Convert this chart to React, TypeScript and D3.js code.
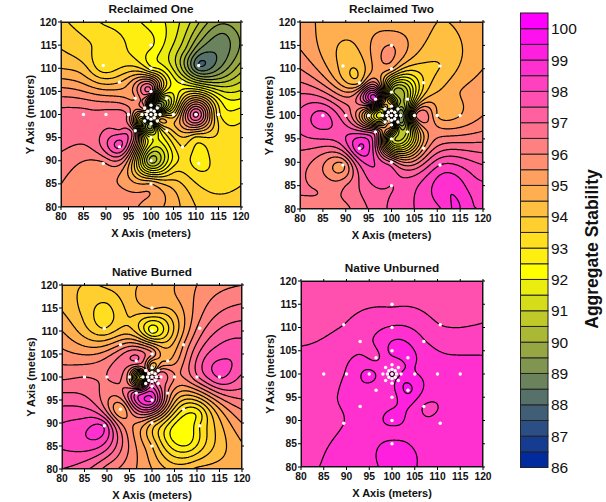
import React, { useMemo } from "react";
import * as d3 from "d3";

// Sample stations, metres. Order per ring: E, NE, N, NW, W, SW, S, SE
const stationX = [100,
  101,100.7,100,99.3,99,99.3,100,100.7,
  102,101.4,100,98.6,98,98.6,100,101.4,
  105,103.5,100,96.5,95,96.5,100,103.5,
  110,107,100,93,90,93,100,107,
  115,110.6,100,89.4,85,89.4,100,110.6];
const stationY = [100,
  100,100.7,101,100.7,100,99.3,99,99.3,
  100,101.4,102,101.4,100,98.6,98,98.6,
  100,103.5,105,103.5,100,96.5,95,96.5,
  100,107,110,107,100,93,90,93,
  100,110.6,115,110.6,100,89.4,85,89.4];

const reclaimedOne = [94,
  92,91,93,95,95,96,93,93,
  93,89,92,96,94,92,90,94,
  93.5,91,96.8,95.5,96.3,96,92,93.5,
  97.7,91.8,92.7,94.5,96.7,98.1,90.3,93.5,
  93.2,88,92.6,93.1,96.7,95.9,95,92.8];
const reclaimedTwo = [96,
  92,91,94,96,95,95,94,92,
  89,90,94,93,92,94,95,90,
  95.5,91,91,99,93.5,97,91.5,91.2,
  95,93.5,95,94.5,97,99,97,95.5,
  95,94,95.5,94.3,98.2,95.4,97.5,98];
const nativeBurned = [97,
  97,96,95.5,96,96,97,98,97,
  97,96,94,96,92,96,98,97,
  96,95,96,97,95.5,98,99,96,
  96.9,95.5,92.3,95.5,96.5,95,94.5,93,
  98.05,96.2,94.6,93.5,96.5,98.4,94.5,93];
const nativeUnburned = [99.2,
  98.8,98.8,98.75,98.8,98.8,98.8,98.85,98.9,
  99.05,98.75,98.7,98.8,98.8,98.8,98.85,99.2,
  99.05,99.15,99.15,98.4,99.15,98.7,98.75,99.6,
  98.75,98.55,98.55,98.45,98.55,98.6,99.2,98.47,
  98.75,98,97.95,98,98.25,98.5,99.15,98.7];

// Extra surface readings taken away from the stations [x, y, value]
const reclaimedOneEdge: number[][] = [
  [80,120,93.6],[90,120,92.9],[100,120,92.3],[110,120,90.7],[120,120,90],[120,110,90.3],[120,100,92.8],[120,90,93.4],[120,80,93.7],
  [110,80,94],[100,80,95.2],[90,80,95.8],[80,80,95.9],[80,90,96.35],[80,100,96.7],[80,110,94.5],
  [113,113,88.4],[116,117,88.9],[108,114,90.3],[116,108,90],[90,115,93.4],[85,110,94.2],[93,97,96.9],[87,97,96.7],[87,103,96],[110,95,93.4],[115,92,93.4],[105,88,93.3],
];
const reclaimedTwoEdge: number[][] = [
  [80,120,95.2],[90,120,94.8],[100,120,94.7],[110,120,94.5],[120,120,94.8],[120,110,95],[120,100,95.5],[120,90,97.4],[120,85,98.1],[120,80,98.5],
  [111.5,80,98.6],[112,86,98.8],[113,83,99],[114,80,99.1],[117,80,98.6],[118,85,98.2],[105,80,98],[100,80,97.6],[90,80,96.4],[80,80,96.4],[80,90,96.7],[80,100,97.6],[80,110,96],
  [90,115,94.4],[115,105,95],[85,85,96.4],[85,90,96.1],[90,85,96.5],
];
const nativeBurnedEdge: number[][] = [
  [80,120,94.2],[90,120,94.1],[100,120,94.6],[110,120,95.5],[120,120,96],[120,110,97.3],[120,105,97.8],[120,100,97.4],[120,90,95.5],[120,80,94.8],
  [110,80,94.6],[100,80,95],[90,80,96.3],[80,80,97.5],[80,90,98],[80,100,96.4],[80,110,95],
  [115,105,97.8],[112,103,97.7],[105,88,92.2],[108,86,92.3],[110,92,92.6],[85,90,98.2],[90,113,93.3],[90,116,93.5],[85,113,93.9],[95,113,94],[95,117,94.3],
];
const nativeUnburnedEdge: number[][] = [
  [80,120,97.7],[90,120,97.75],[100,120,97.8],[110,120,97.8],[120,120,97.85],[120,111,98],[115,110,98],[120,104,98.5],[120,90,98.75],[120,80,98.8],
  [110,80,98.9],[105.5,80,99],[100,80,99.25],[97,80,99],[90,80,98.7],[84,80,98.5],[80,80,98.45],[80,90,98.4],[80,100,98.2],[80,106,98],
  [88,95,98.5],[92,104,98.5],[100,87.3,98.75],
];

const panelTitles = ["Reclaimed One", "Reclaimed Two", "Native Burned", "Native Unburned"];
const panelValues = [reclaimedOne, reclaimedTwo, nativeBurned, nativeUnburned];
const panelEdges = [reclaimedOneEdge, reclaimedTwoEdge, nativeBurnedEdge, nativeUnburnedEdge];
const panelBoxes = [
  { l: 61, r: 241, t: 22, b: 207 },
  { l: 300, r: 483, t: 22, b: 209 },
  { l: 62, r: 242, t: 285, b: 469 },
  { l: 301, r: 483, t: 281, b: 467 },
];
const axisTicks = [80, 85, 90, 95, 100, 105, 110, 115, 120];
const barLabels = [86,87,88,89,90,91,92,93,94,95,96,97,98,99,100];
const levels = d3.range(86, 100.51, 0.5);
const FONT = "'Liberation Sans', Arial, sans-serif";

const lowColour = d3.scaleLinear<string>().domain([86, 92]).range(["#002a9e", "#ffff00"]);
const highColour = d3.scaleLinear<string>().domain([92, 100]).range(["#ffff00", "#ff00ff"]);
const bandColour = (v: number) => (v < 92 ? lowColour(v) : highColour(v));

function solve(A: number[][], b: number[]) {
  const n = b.length;
  for (let i = 0; i < n; i++) {
    let p = i;
    for (let k = i + 1; k < n; k++) if (Math.abs(A[k][i]) > Math.abs(A[p][i])) p = k;
    [A[i], A[p]] = [A[p], A[i]];
    [b[i], b[p]] = [b[p], b[i]];
    for (let k = i + 1; k < n; k++) {
      const f = A[k][i] / A[i][i];
      if (f === 0) continue;
      for (let j = i; j < n; j++) A[k][j] -= f * A[i][j];
      b[k] -= f * b[i];
    }
  }
  const x = new Array(n).fill(0);
  for (let i = n - 1; i >= 0; i--) {
    let s = b[i];
    for (let j = i + 1; j < n; j++) s -= A[i][j] * x[j];
    x[i] = s / A[i][i];
  }
  return x;
}

const kernel = (d2: number) => (d2 < 1e-12 ? 0 : d2 * Math.log(d2) * 0.5);
const GRID = 201;

function surface(values: number[], edge: number[][]) {
  const pts = [
    ...stationX.map((x, i) => [x, stationY[i], values[i]]),
    ...edge,
  ];
  const n = pts.length;
  const A: number[][] = [];
  const b: number[] = [];
  for (let i = 0; i < n + 3; i++) {
    const row = new Array(n + 3).fill(0);
    if (i < n) {
      for (let j = 0; j < n; j++) {
        const dx = pts[i][0] - pts[j][0], dy = pts[i][1] - pts[j][1];
        row[j] = kernel(dx * dx + dy * dy);
      }
      row[n] = 1; row[n + 1] = (pts[i][0] - 100) / 20; row[n + 2] = (pts[i][1] - 100) / 20;
      b.push(pts[i][2]);
    } else {
      for (let j = 0; j < n; j++) {
        row[j] = i === n ? 1 : i === n + 1 ? (pts[j][0] - 100) / 20 : (pts[j][1] - 100) / 20;
      }
      b.push(0);
    }
    A.push(row);
  }
  const w = solve(A, b);
  const grid = new Float64Array(GRID * GRID);
  for (let r = 0; r < GRID; r++) {
    const y = 120 - (40 * r) / (GRID - 1);
    for (let c = 0; c < GRID; c++) {
      const x = 80 + (40 * c) / (GRID - 1);
      let v = w[n] + (w[n + 1] * (x - 100)) / 20 + (w[n + 2] * (y - 100)) / 20;
      for (let j = 0; j < n; j++) {
        const dx = x - pts[j][0], dy = y - pts[j][1];
        v += w[j] * kernel(dx * dx + dy * dy);
      }
      grid[r * GRID + c] = v;
    }
  }
  return grid;
}

function Panel({ idx }: { idx: number }) {
  const box = panelBoxes[idx];
  const x = d3.scaleLinear().domain([80, 120]).range([box.l, box.r]);
  const y = d3.scaleLinear().domain([80, 120]).range([box.b, box.t]);
  const contours = useMemo(() => {
    const g = surface(panelValues[idx], panelEdges[idx]);
    const gen = d3.contours().size([GRID, GRID]).smooth(true).thresholds(levels);
    return gen(Array.from(g));
  }, [idx]);
  // grid node centres sit at +0.5 in d3.contours' coordinates
  const sx = (box.r - box.l) / (GRID - 1);
  const sy = (box.b - box.t) / (GRID - 1);
  const geo = d3.geoPath(
    d3.geoTransform({
      point(px: number, py: number) {
        (this as any).stream.point(box.l + (px - 0.5) * sx, box.t + (py - 0.5) * sy);
      },
    })
  );
  const clip = `clip${idx}`;
  const tickStyle = { fontFamily: FONT, fontSize: 10.3, fontWeight: 700, fill: "#111" } as const;
  const w = box.r - box.l, h = box.b - box.t;
  return (
    <g>
      <clipPath id={clip}><rect x={box.l} y={box.t} width={w} height={h} /></clipPath>
      <g clipPath={`url(#${clip})`}>
        <rect x={box.l} y={box.t} width={w} height={h} fill={bandColour(idx === 3 ? 98 : 92)} />
        {contours.map((c, i) => (
          <path key={i} d={geo(c as any) || ""} fill={bandColour(c.value)} stroke="none" />
        ))}
        {contours.map((c, i) => (
          <path key={i} d={geo(c as any) || ""} fill="none" stroke="#000" strokeWidth={1.2} />
        ))}
        {stationX.map((sxv, i) => (
          <circle key={i} cx={x(sxv)} cy={y(stationY[i])} r={1.7} fill="#fff" />
        ))}
      </g>
      <rect x={box.l} y={box.t} width={w} height={h} fill="none" stroke="#222" strokeWidth={1} />
      {axisTicks.map((t) => (
        <g key={t}>
          <line x1={x(t)} x2={x(t)} y1={box.b} y2={box.b + 3} stroke="#000" />
          <line x1={x(t)} x2={x(t)} y1={box.t} y2={box.t - 2} stroke="#000" />
          <line y1={y(t)} y2={y(t)} x1={box.l} x2={box.l - 3} stroke="#000" />
          <line y1={y(t)} y2={y(t)} x1={box.r} x2={box.r + 2} stroke="#000" />
          <text x={x(t)} y={box.b + 12.5} textAnchor="middle" {...tickStyle}>{t}</text>
          <text x={box.l - 4} y={y(t) + 3.5} textAnchor="end" {...tickStyle}>{t}</text>
        </g>
      ))}
      <text x={(box.l + box.r) / 2} y={box.t - 9} textAnchor="middle" fontFamily={FONT} fontSize={11.8} fontWeight={700} fill="#111">{panelTitles[idx]}</text>
      <text x={(box.l + box.r) / 2} y={box.b + 30} textAnchor="middle" fontFamily={FONT} fontSize={11} fontWeight={700} fill="#111">X Axis (meters)</text>
      <text transform={`translate(${box.l - 27},${(box.t + box.b) / 2}) rotate(-90)`} textAnchor="middle" fontFamily={FONT} fontSize={11} fontWeight={700} fill="#111">Y Axis (meters)</text>
    </g>
  );
}

function ColourBar() {
  const y = d3.scaleLinear().domain([86, 100.5]).range([467.5, 13]);
  return (
    <g>
      {levels.slice(0, -1).map((v) => (
        <rect key={v} x={520.5} y={y(v + 0.5)} width={27.5} height={y(v) - y(v + 0.5)} fill={bandColour(v)} stroke="#222" strokeWidth={1} />
      ))}
      {barLabels.map((t) => (
        <text key={t} x={551} y={y(t) + 5.5} fontFamily={FONT} fontSize={15.5} fill="#111">{t}</text>
      ))}
      <text transform="translate(598,249) rotate(-90)" textAnchor="middle" fontFamily={FONT} fontSize={17.5} fontWeight={700} fill="#111">Aggregate Stability</text>
    </g>
  );
}

export default function App() {
  return (
    <svg width={606} height={502} style={{ position: "fixed", left: 0, top: 0, background: "#fff" }}>
      {panelTitles.map((_, i) => <Panel key={i} idx={i} />)}
      <ColourBar />
    </svg>
  );
}
